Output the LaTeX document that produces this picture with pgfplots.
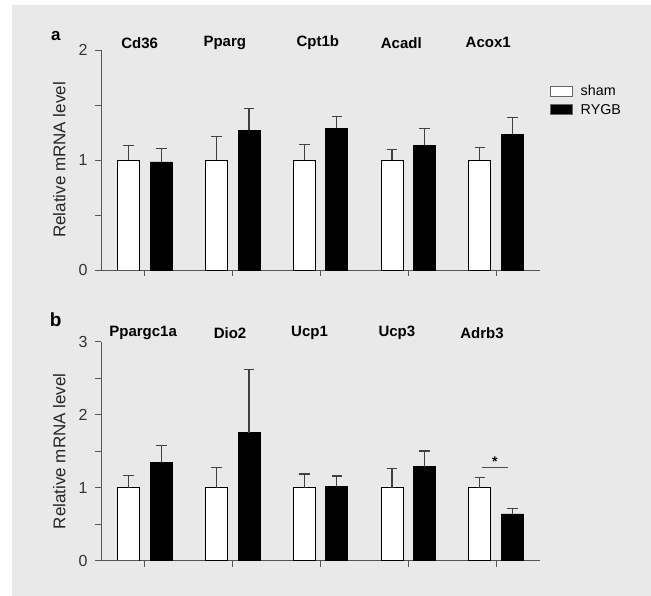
\documentclass[border=0pt]{standalone}
\usepackage{pgfplots}
\pgfplotsset{compat=1.18}
\usepackage{pgfplotstable}
\usepackage{fontspec}
\setmainfont{Liberation Sans}
\definecolor{bg}{RGB}{233,233,233}
\definecolor{axc}{RGB}{85,85,85}

\pgfplotstableread{
x sham shamerr rygb rygberr
0 1.0 0.130 0.982 0.124
1 1.0 0.210 1.270 0.196
2 1.0 0.140 1.288 0.106
3 1.0 0.094 1.133 0.157
4 1.0 0.112 1.233 0.152
}\tabA
\pgfplotstableread{
x sham shamerr rygb rygberr
0 1.0 0.170 1.342 0.238
1 1.0 0.280 1.753 0.863
2 1.0 0.188 1.023 0.137
3 1.0 0.260 1.288 0.215
4 1.0 0.142 0.640 0.078
}\tabB

\tikzset{gene/.style={font=\fontsize{15bp}{16bp}\selectfont\bfseries, anchor=center}}
\pgfplotsset{
  panel/.style={
    scale only axis, width=439bp,
    axis lines=left, axis line style={draw=axc, line width=0.9bp, -},
    xmin=-0.5, xmax=4.5, ymin=0,
    xtick={0,1,2,3,4}, xticklabels={},
    tick align=outside, major tick length=6bp,
    tick style={draw=axc, line width=0.9bp},
    /pgf/number format/assume math mode=true,
    yticklabel style={font=\fontsize{16bp}{17bp}\selectfont, text=black!80, xshift=-4bp},
    ylabel={Relative mRNA level},
    ylabel style={at={(rel axis cs:-0.095,0.5)}, anchor=center, font=\fontsize{17bp}{18bp}\selectfont, text=black!85},
    ybar, bar width=22bp,
    clip=false,
    error bars/error bar style={line width=1.1bp, draw=black!75},
    error bars/error mark options={rotate=90, mark size=5.3bp, line width=1.1bp, draw=black!75},
  },
  shambar/.style={fill=white, draw=black, line width=0.9bp, bar shift=-16.3bp,
    error bars/.cd, y dir=plus, y explicit},
  rygbbar/.style={fill=black, draw=black, line width=0.9bp, bar shift=16.3bp,
    error bars/.cd, y dir=plus, y explicit},
}

\begin{document}
\begin{tikzpicture}[x=1bp,y=1bp]
\useasboundingbox (0,0) rectangle (651,596);
\fill[bg] (12,0) rectangle (651,591);

% Panel a
\begin{axis}[panel, at={(101bp,326bp)}, anchor=south west, height=220bp,
  ymax=2, ytick={0,0.5,1,1.5,2}, yticklabels={0,,1,,2},
  legend style={at={(rel axis cs:1.023,0.85)}, anchor=north west, draw=none, fill=none,
    font=\fontsize{14.3bp}{15bp}\selectfont, inner sep=0pt, row sep=3bp,
    cells={anchor=west}},
  legend image code/.code={\draw[#1, line width=0.8bp, draw=black!60] (0bp,-5bp) rectangle (22bp,5bp); \path[draw=none, fill=none] (22bp,0bp) rectangle (28bp,0.1bp);},
]
\addplot[shambar] table[x=x, y=sham, y error=shamerr] {\tabA};
\addlegendentry{sham}
\addplot[rygbbar] table[x=x, y=rygb, y error=rygberr] {\tabA};
\addlegendentry{RYGB}
\draw[axc, line width=0.9bp] (rel axis cs:0,0) -- ++(-6bp,0);
\node[gene] at (axis cs:-0.06,2) [yshift=7.3bp] {Cd36};
\node[gene] at (axis cs:0.91,2) [yshift=7.3bp] {Pparg};
\node[gene] at (axis cs:1.97,2) [yshift=7.3bp] {Cpt1b};
\node[gene] at (axis cs:2.92,2) [yshift=7.3bp] {Acadl};
\node[gene] at (axis cs:3.91,2) [yshift=7.3bp] {Acox1};
\node[font=\fontsize{17bp}{18bp}\selectfont\bfseries] at (rel axis cs:-0.103,1.063) {a};
\end{axis}

% Panel b
\begin{axis}[panel, at={(101bp,35.3bp)}, anchor=south west, height=219bp,
  ymax=3, ytick={0,0.5,1,1.5,2,2.5,3}, yticklabels={0,,1,,2,,3},
]
\addplot[shambar] table[x=x, y=sham, y error=shamerr] {\tabB};
\addplot[rygbbar] table[x=x, y=rygb, y error=rygberr] {\tabB};
\draw[axc, line width=0.9bp] (rel axis cs:0,0) -- ++(-6bp,0);
\node[gene] at (axis cs:-0.02,3) [yshift=8.4bp] {Ppargc1a};
\node[gene] at (axis cs:0.97,3) [yshift=8.4bp] {Dio2};
\node[gene] at (axis cs:1.875,3) [yshift=8.4bp] {Ucp1};
\node[gene] at (axis cs:2.87,3) [yshift=8.4bp] {Ucp3};
\node[gene] at (axis cs:3.84,3) [yshift=8.4bp] {Adrb3};
\draw[black!70, line width=1.1bp] (axis cs:3.836,1.274) -- (axis cs:4.133,1.274);
\node[font=\fontsize{14bp}{15bp}\selectfont\bfseries] at (axis cs:3.987,1.36) {*};
\node[font=\fontsize{19bp}{20bp}\selectfont\bfseries] at (rel axis cs:-0.103,1.1) {b};
\end{axis}
\end{tikzpicture}
\end{document}
